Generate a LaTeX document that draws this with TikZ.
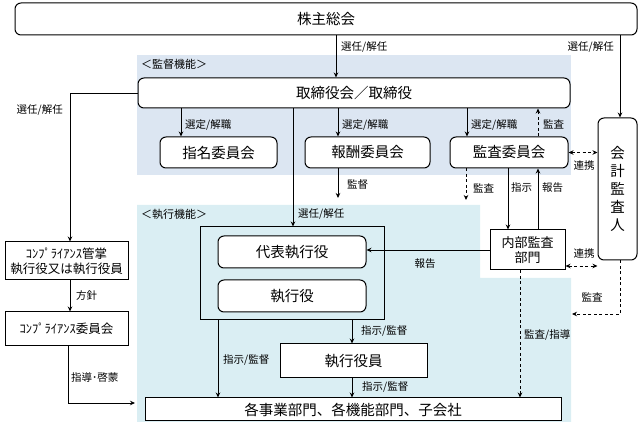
\documentclass[tikz,border=0pt]{standalone}
\usepackage{fontspec}
\setmainfont{Noto Sans CJK JP}
\usetikzlibrary{arrows.meta}
\definecolor{supbg}{RGB}{220,230,242}
\definecolor{exebg}{RGB}{218,238,243}
\tikzset{
  rbox/.style={draw, line width=1pt, rounded corners=6pt, fill=white, inner sep=0pt, font=\fontsize{14.5}{17}\selectfont},
  sbox/.style={draw, line width=1pt, fill=white, inner sep=0pt, font=\fontsize{14.5}{17}\selectfont},
  lbl/.style={font=\fontsize{10.5}{12}\selectfont, inner sep=1pt},
  arr/.style={line width=0.8pt, -{Stealth[length=5pt,width=4.5pt]}},
  darr/.style={line width=0.8pt, dash pattern=on 3pt off 2.5pt, -{Stealth[length=5pt,width=4.5pt]}},
  ddarr/.style={line width=0.8pt, dash pattern=on 3pt off 2.5pt, {Stealth[length=5pt,width=4.5pt]}-{Stealth[length=5pt,width=4.5pt]}},
  ln/.style={line width=0.8pt}
}
\begin{document}
\begin{tikzpicture}[x=1pt,y=-1pt]
\useasboundingbox (0,0) rectangle (640,427);
% backgrounds
\fill[supbg] (137,55) rectangle (571,175);
\fill[exebg] (137,205) -- (480,205) -- (480,278) -- (571,278) -- (571,422) -- (137,422) -- cycle;
\node[lbl, anchor=west, font=\fontsize{11}{12}\selectfont] (suplbl) at (140,64) {＜監督機能＞};
\node[lbl, anchor=west, font=\fontsize{11}{12}\selectfont] (exelbl) at (140,214) {＜執行機能＞};

% nodes
\node[rbox, minimum width=622, minimum height=32] (kabu) at (326,19) {株主総会};
\node[rbox, minimum width=432, minimum height=30] (tori) at (354,93) {取締役会／取締役};
\node[rbox, minimum width=117, minimum height=31] (shimei) at (218.5,152.5) {指名委員会};
\node[rbox, minimum width=125, minimum height=31] (hoshu) at (367.5,152.5) {報酬委員会};
\node[rbox, minimum width=118, minimum height=31] (kansa) at (509,152.5) {監査委員会};
\node[rbox, minimum width=39, minimum height=142, align=center, font=\fontsize{14.5}{18}\selectfont] (kaikei) at (617.5,189) {会\\計\\監\\査\\人};
\node[sbox, minimum width=75, minimum height=40, align=center, font=\fontsize{13}{15.5}\selectfont] (naibu) at (527.5,250) {内部監査\\部門};
\node[draw, line width=1pt, minimum width=184, minimum height=93, inner sep=0pt] (frame) at (292,273.5) {};
\node[rbox, minimum width=148, minimum height=32] (daihyo) at (292,252) {代表執行役};
\node[rbox, minimum width=148, minimum height=32] (shikko) at (292,296) {執行役};
\node[sbox, minimum width=147, minimum height=34] (yakuin) at (353.5,361) {執行役員};
\node[sbox, minimum width=416, minimum height=23] (jigyo) at (353,409.5) {各事業部門、各機能部門、子会社};
\node[sbox, minimum width=123, minimum height=38, align=center, font=\fontsize{12.5}{15}\selectfont] (comp1) at (66.5,261) {ｺﾝﾌﾟﾗｲｱﾝｽ管掌\\執行役又は執行役員};
\node[sbox, minimum width=123, minimum height=34, font=\fontsize{12.5}{15}\selectfont] (comp2) at (66.5,329) {ｺﾝﾌﾟﾗｲｱﾝｽ委員会};

% x coordinates
\coordinate (c336) at (336,0);
\coordinate (c620) at (620,0);
\coordinate (c70) at (70,0);
\coordinate (c181) at (181,0);
\coordinate (c338) at (338,0);
\coordinate (c467) at (467,0);
\coordinate (c538) at (538,0);
\coordinate (c508) at (508,0);
\coordinate (c293) at (293,0);
\coordinate (c520) at (520,0);
\coordinate (c218) at (218,0);
\coordinate (c352) at (352,0);
\coordinate (kansaend) at (466,200);
\coordinate (kantokuend) at (338,198);
\coordinate (kkbend) at (572,314);
\coordinate (kkbcorner) at (620,314);
\coordinate (shidoend) at (135,403);
\coordinate (shidocorner) at (68,403);
\coordinate (c68) at (68,0);

% connectors
\draw[arr] (kabu.south -| c336) -- (tori.north -| c336);
\node[lbl, anchor=west] (l1) at (340,47) {選任/解任};
\draw[arr] (kabu.south -| c620) -- (kaikei.north -| c620);
\node[lbl, anchor=east] (l2) at (615,47) {選任/解任};
\draw[arr] (tori.west) -| (comp1.north -| c70);
\node[lbl, anchor=east] (l3) at (64,110) {選任/解任};

\draw[arr] (tori.south -| c181) -- (shimei.north -| c181);
\node[lbl, anchor=west] (l4) at (184,125) {選定/解職};
\draw[arr] (tori.south -| c338) -- (hoshu.north -| c338);
\node[lbl, anchor=west] (l5) at (341,125) {選定/解職};
\draw[arr] (tori.south -| c467) -- (kansa.north -| c467);
\node[lbl, anchor=west] (l6) at (470,125) {選定/解職};
\draw[darr] (kansa.north -| c538) -- (tori.south -| c538);
\node[lbl, anchor=west] (l7) at (542,124) {監査};

\draw[arr] (hoshu.south -| c338) -- (kantokuend);
\node[lbl, anchor=west] (l8) at (346,185) {監督};
\draw[darr] (kansa.south -| kansaend) -- (kansaend);
\node[lbl, anchor=west] (l9) at (472,188) {監査};
\draw[arr] (kansa.south -| c508) -- (naibu.north -| c508);
\node[lbl, anchor=west] (l10) at (510,188) {指示};
\draw[arr] (naibu.north -| c538) -- (kansa.south -| c538);
\node[lbl, anchor=west] (l11) at (541,188) {報告};

\draw[arr] (tori.south -| c293) -- (frame.north -| c293);
\node[lbl, anchor=west] (l12) at (297,214) {選任/解任};

\draw[arr] (naibu.west) -- (naibu.west -| daihyo.east);
\node[lbl] (l13) at (425,264) {報告};

\draw[ddarr] (kansa.east) -- (kansa.east -| kaikei.west);
\node[lbl] (l14) at (584,166) {連携};
\draw[ddarr] ([yshift=-16pt]naibu.east) -- ([yshift=-16pt]naibu.east -| kaikei.west);
\node[lbl] (l15) at (584,254) {連携};

\draw[darr] (kaikei.south -| c620) -- (kkbcorner) -- (kkbend);
\node[lbl] (l16) at (592,297) {監査};

\draw[darr] (naibu.south -| c520) -- (jigyo.north -| c520);
\node[lbl, anchor=west] (l17) at (523,335) {監査/指導};

\draw[arr] (frame.south -| c218) -- (jigyo.north -| c218);
\node[lbl, anchor=west] (l18) at (222,360) {指示/監督};
\draw[arr] (frame.south -| c352) -- (yakuin.north -| c352);
\node[lbl, anchor=west] (l19) at (360,331) {指示/監督};
\draw[arr] (yakuin.south -| c352) -- (jigyo.north -| c352);
\node[lbl, anchor=west] (l20) at (361,387) {指示/監督};

\draw[arr] (comp1.south -| c70) -- (comp2.north -| c70);
\node[lbl, anchor=west] (l21) at (75,296) {方針};
\draw[arr] (comp2.south -| c68) -- (shidocorner) -- (shidoend);
\node[lbl, anchor=west] (l22) at (70,378) {指導･啓蒙};
\end{tikzpicture}
\end{document}
